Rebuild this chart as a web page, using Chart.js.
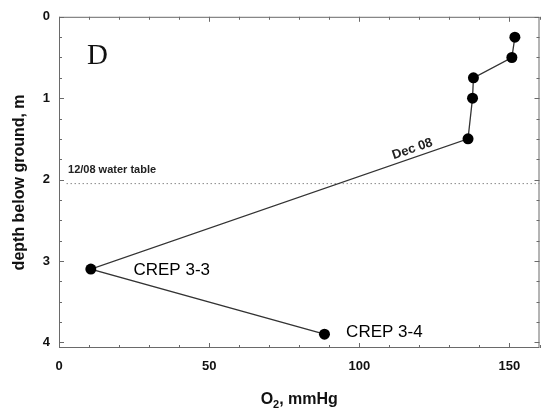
<!DOCTYPE html>
<html>
<head>
<meta charset="utf-8">
<script src="https://cdn.jsdelivr.net/npm/chart.js@4/dist/chart.umd.min.js"></script>
<style>
  html, body { margin: 0; padding: 0; background: #fff; }
  #wrap { width: 545px; height: 410px; }
</style>
</head>
<body>
<div id="wrap"><canvas id="profile"></canvas></div>
<script>
// O2 profile, CREP 3, December 2008
const o2Values = [151.8, 150.8, 138, 137.7, 136.2, 10.6, 88.4];
const depths = [0.25, 0.5, 0.75, 1.0, 1.5, 3.1, 3.9];
const waterTableDepth = 2.05;
const waterTableSpan = [2.5, 160];

const xTicks = [0, 50, 100, 150];
const yTicks = [0, 1, 2, 3, 4];
const xMinorStep = 10;
const yMinorStep = 0.25;

const FONT = 'Arial, "Liberation Sans", Helvetica, sans-serif';
const AXIS_COLOR = '#6a6a6a';

const profilePoints = o2Values.map((v, i) => ({ x: v, y: depths[i] }));
const waterTable = waterTableSpan.map(x => ({ x, y: waterTableDepth }));

// frame, inward ticks, labels and axis titles
const decorations = {
  id: 'decorations',
  afterDraw(chart) {
    const { ctx, chartArea: a, scales: { x, y } } = chart;
    ctx.save();

    ctx.strokeStyle = AXIS_COLOR;
    ctx.lineWidth = 1;
    ctx.strokeRect(a.left + 0.5, a.top + 0.5, a.right - a.left - 1, a.bottom - a.top - 1);

    ctx.beginPath();
    for (let v = 0; v <= x.max + 1e-6; v += xMinorStep) {
      const px = Math.round(x.getPixelForValue(v)) + 0.5;
      const len = xTicks.includes(v) ? 5 : 3;
      ctx.moveTo(px, a.bottom); ctx.lineTo(px, a.bottom - len);
      ctx.moveTo(px, a.top); ctx.lineTo(px, a.top + len);
    }
    for (let v = 0; v <= y.max + 1e-6; v += yMinorStep) {
      const py = Math.round(y.getPixelForValue(v)) + 0.5;
      const len = yTicks.includes(v) ? 5 : 3;
      ctx.moveTo(a.left, py); ctx.lineTo(a.left + len, py);
      ctx.moveTo(a.right, py); ctx.lineTo(a.right - len, py);
    }
    ctx.stroke();

    ctx.fillStyle = '#111';
    ctx.textBaseline = 'alphabetic';

    // panel letter
    ctx.font = '29px "Liberation Serif", "Times New Roman", serif';
    ctx.textAlign = 'left';
    ctx.fillText('D', a.left + 28, a.top + 47);

    // water table note
    ctx.font = 'bold 11px ' + FONT;
    ctx.fillStyle = '#222';
    ctx.fillText('12/08 water table', x.getPixelForValue(3), y.getPixelForValue(waterTableDepth) - 11);

    // profile label along the segment between 1.5 m and 3.1 m
    const p1 = { x: x.getPixelForValue(o2Values[5]), y: y.getPixelForValue(depths[5]) };
    const p2 = { x: x.getPixelForValue(o2Values[4]), y: y.getPixelForValue(depths[4]) };
    const ang = Math.atan2(p2.y - p1.y, p2.x - p1.x);
    const t = 0.86;
    ctx.save();
    ctx.translate(p1.x + (p2.x - p1.x) * t, p1.y + (p2.y - p1.y) * t);
    ctx.rotate(ang);
    ctx.font = 'bold 13px ' + FONT;
    ctx.textAlign = 'center';
    ctx.fillText('Dec 08', 0, -5);
    ctx.restore();

    // well labels
    ctx.font = '17px ' + FONT;
    ctx.fillStyle = '#000';
    ctx.textAlign = 'left';
    ctx.textBaseline = 'middle';
    ctx.fillText('CREP 3-3', x.getPixelForValue(24.8), y.getPixelForValue(3.12));
    ctx.fillText('CREP 3-4', x.getPixelForValue(95.6), y.getPixelForValue(3.88));

    // axis titles
    ctx.fillStyle = '#111';
    ctx.textBaseline = 'alphabetic';
    ctx.font = 'bold 16px ' + FONT;
    ctx.save();
    ctx.translate(24, (a.top + a.bottom) / 2);
    ctx.rotate(-Math.PI / 2);
    ctx.textAlign = 'center';
    ctx.fillText('depth below ground, m', 0, 0);
    ctx.restore();

    const big = 'bold 16px ' + FONT;
    const small = 'bold 11px ' + FONT;
    ctx.font = big;
    const wO = ctx.measureText('O').width;
    const wRest = ctx.measureText(', mmHg').width;
    ctx.font = small;
    const w2 = ctx.measureText('2').width;
    let tx = (a.left + a.right) / 2 - (wO + w2 + wRest) / 2;
    const ty = 404;
    ctx.textAlign = 'left';
    ctx.font = big;
    ctx.fillText('O', tx, ty);
    tx += wO;
    ctx.font = small;
    ctx.fillText('2', tx, ty + 4);
    tx += w2;
    ctx.font = big;
    ctx.fillText(', mmHg', tx, ty);

    ctx.restore();
  }
};

new Chart(document.getElementById('profile'), {
  type: 'scatter',
  data: {
    datasets: [
      {
        label: 'Dec 08',
        data: profilePoints,
        showLine: true,
        borderColor: '#333',
        borderWidth: 1.3,
        pointRadius: 5.5,
        pointBackgroundColor: '#000',
        pointBorderColor: '#000',
        pointBorderWidth: 0,
        tension: 0
      },
      {
        label: '12/08 water table',
        data: waterTable,
        showLine: true,
        borderColor: '#8a8a8a',
        borderWidth: 1,
        borderDash: [1.5, 2.5],
        pointRadius: 0
      }
    ]
  },
  options: {
    responsive: true,
    maintainAspectRatio: false,
    animation: false,
    layout: { padding: { left: 0, right: 1, top: 16, bottom: 0 } },
    plugins: { legend: { display: false }, tooltip: { enabled: false } },
    scales: {
      x: {
        type: 'linear',
        min: 0,
        max: 160,
        grid: { display: false, drawTicks: false },
        border: { display: false },
        afterBuildTicks: scale => { scale.ticks = xTicks.map(value => ({ value })); },
        afterFit: scale => { scale.height = 62; },
        ticks: { color: '#111', padding: 11, font: { family: FONT, size: 13, weight: 'bold' } }
      },
      y: {
        type: 'linear',
        reverse: true,
        min: 0,
        max: 4.07,
        grid: { display: false, drawTicks: false },
        border: { display: false },
        afterBuildTicks: scale => { scale.ticks = yTicks.map(value => ({ value })); },
        afterFit: scale => { scale.width = 59; },
        ticks: { color: '#111', padding: 9, font: { family: FONT, size: 13, weight: 'bold' } }
      }
    }
  },
  plugins: [decorations]
});
</script>
</body>
</html>
